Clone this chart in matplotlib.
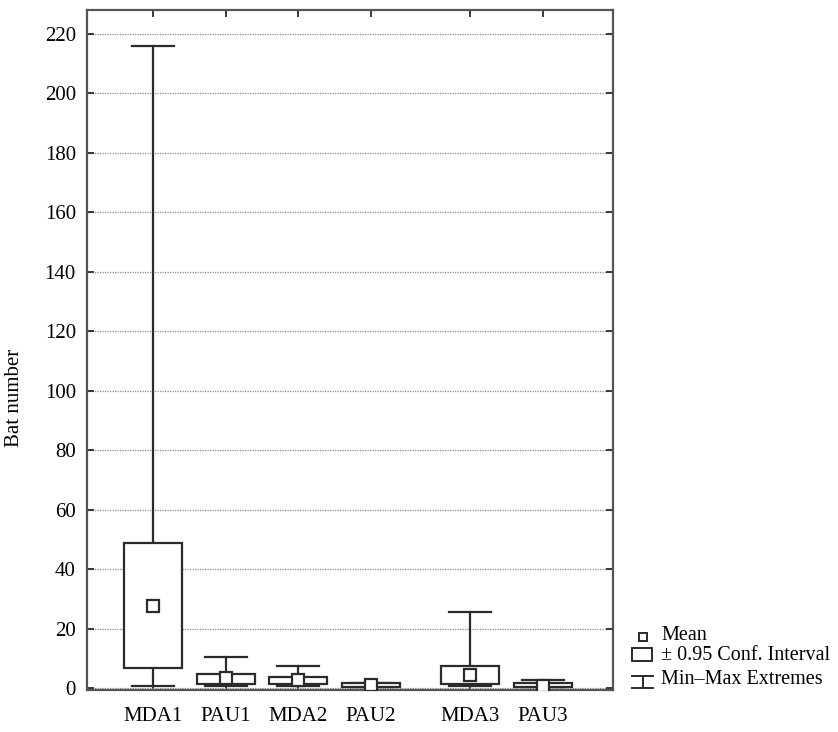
import matplotlib
matplotlib.use("Agg")
import matplotlib.pyplot as plt
from matplotlib.patches import Rectangle
from matplotlib.lines import Line2D

# --- data ---
groups = ["MDA1", "PAU1", "MDA2", "PAU2", "MDA3", "PAU3"]
positions = [1, 2, 3, 4, 5.37, 6.37]
means = [27.5, 3.4, 2.8, 1.0, 4.5, 0.8]
ci_low = [6.8, 1.4, 1.2, 0.3, 1.2, 0.2]
ci_high = [48.8, 4.6, 3.8, 1.7, 7.3, 1.6]
mins = [0.7, 0.7, 0.7, 0.3, 0.7, 0.2]
maxs = [216, 10.3, 7.4, 1.8, 25.6, 2.7]
yticks = list(range(0, 221, 20))

INK = "#2b2b2b"
LW = 1.6
BOX_W = 0.8
CAP_W = 0.58
FS = 15

plt.rcParams["font.family"] = ["Liberation Serif", "DejaVu Serif"]

fig = plt.figure(figsize=(8.38, 7.32), dpi=100)
ax = fig.add_axes([87 / 838, 42 / 732, 526 / 838, 680 / 732])

# --- boxes, whiskers, means ---
for x, m, lo, hi, mn, mx in zip(positions, means, ci_low, ci_high, mins, maxs):
    ax.add_patch(Rectangle((x - BOX_W / 2, lo), BOX_W, hi - lo,
                           facecolor="white", edgecolor=INK, lw=LW, zorder=3))
    ax.plot([x, x], [hi, mx], color=INK, lw=LW, zorder=2)
    ax.plot([x, x], [mn, lo], color=INK, lw=LW, zorder=2)
    ax.plot([x - CAP_W / 2, x + CAP_W / 2], [mx, mx], color=INK, lw=LW, zorder=2)
    ax.plot([x - CAP_W / 2, x + CAP_W / 2], [mn, mn], color=INK, lw=LW, zorder=2)
    ax.plot([x], [m], marker="s", ms=8, mfc="white", mec=INK, mew=LW, zorder=4)

ax.set_xlim(0.09, 7.335)
ax.set_ylim(-0.67, 228)

ax.set_xticks(positions)
ax.set_xticklabels(groups, fontsize=FS)
ax.set_yticks(yticks)
ax.set_yticklabels([str(v) for v in yticks], fontsize=FS)
ax.tick_params(axis="both", direction="in", length=5, width=1.3, color=INK,
               top=True, right=True)
ax.tick_params(axis="x", pad=12)
ax.tick_params(axis="y", pad=8)

ax.yaxis.grid(True, linestyle=(0, (1, 1)), color="#8a8a8a", lw=0.9)
ax.set_axisbelow(True)

for sp in ax.spines.values():
    sp.set_color("#555555")
    sp.set_linewidth(1.6)

ax.set_ylabel("Bat number", fontsize=FS)
ax.yaxis.set_label_coords(-0.12, 0.43)

# --- legend (drawn by hand in pixel space) ---
lg = fig.add_axes([0, 0, 1, 1], facecolor="none")
lg.set_xlim(0, 838)
lg.set_ylim(732, 0)
lg.set_axis_off()

lg.add_patch(Rectangle((639, 632.5), 8, 8, facecolor="white", edgecolor=INK, lw=1.4))
lg.add_patch(Rectangle((632, 648), 20, 13, facecolor="white", edgecolor=INK, lw=1.4))
lg.add_line(Line2D([632, 653], [675.5, 675.5], color=INK, lw=1.4))
lg.add_line(Line2D([632, 653], [688, 688], color=INK, lw=1.4))
lg.add_line(Line2D([642.5, 642.5], [675.5, 688], color=INK, lw=1.4))

lg.text(661, 635, "Mean", fontsize=14.5, va="center", ha="left")
lg.text(661, 655, "± 0.95 Conf. Interval", fontsize=14.5, va="center", ha="left")
lg.text(661, 680, "Min–Max Extremes", fontsize=14.5, va="center", ha="left")

fig.savefig("out.png", dpi=100)
